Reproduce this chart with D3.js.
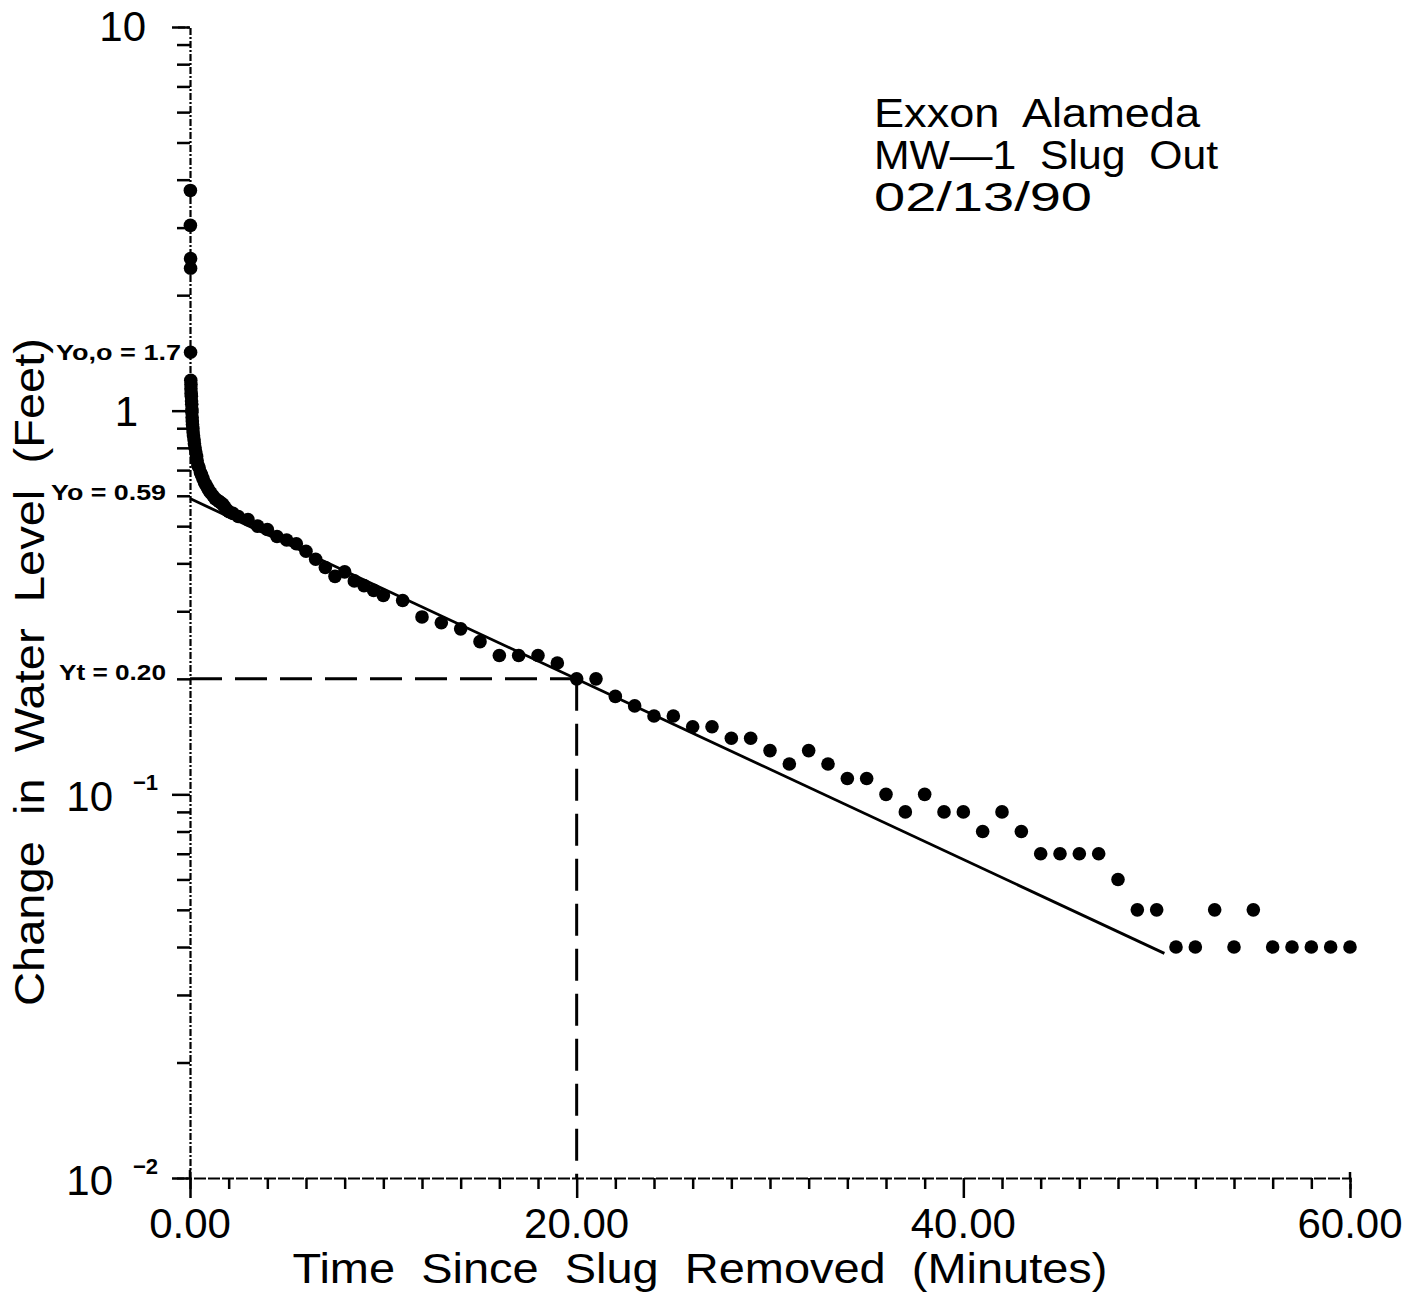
<!DOCTYPE html>
<html><head><meta charset="utf-8">
<script src="https://cdn.jsdelivr.net/npm/d3@7"></script>
<style>
html,body{margin:0;padding:0;background:#fff;}
svg{display:block;}
text{font-family:"Liberation Sans",Arial,sans-serif;fill:#000;}
</style></head>
<body>
<svg id="chart" width="1416" height="1298"></svg>
<script>
// ---- data ----
const timeMin = [0.02,0.02,0.03,0.03,0.03,
  0.04,0.05,0.05,0.06,0.07,0.08,0.09,0.10,0.10,0.11,0.12,0.13,0.15,0.16,0.18,0.21,0.23,0.26,0.30,0.34,0.37,0.41,0.47,0.54,0.60,0.67,0.75,0.83,0.90,0.98,1.08,1.19,1.30,1.40,1.50,1.60,1.70,1.81,1.92,2.02,2.22,
  2.5,3.0,3.5,4.0,4.5,5.0,5.5,6.0,6.5,7.0,7.5,8.0,8.5,9.0,9.5,10.0,
  11,12,13,14,15,16,17,18,19,20,21,22,23,24,25,26,27,28,29,30,31,32,33,34,35,36,37,38,39,40,
  41,42,43,44,45,46,47,48,49,50,51,52,53,54,55,56,57,58,59,60];
const levelFt = [3.75,3.04,2.49,2.35,1.42,
  1.20,1.17,1.14,1.11,1.09,1.06,1.04,1.01,0.99,0.96,0.94,0.92,0.90,0.88,0.86,0.84,0.82,0.80,0.78,0.76,0.74,0.72,0.71,0.69,0.68,0.665,0.65,0.64,0.63,0.62,0.61,0.60,0.59,0.585,0.58,0.575,0.57,0.56,0.55,0.545,0.54,
  0.53,0.52,0.50,0.49,0.47,0.46,0.45,0.43,0.41,0.39,0.37,0.38,0.36,0.35,0.34,0.33,
  0.32,0.29,0.28,0.27,0.25,0.23,0.23,0.23,0.22,0.20,0.20,0.18,0.17,0.16,0.16,0.15,0.15,0.14,0.14,0.13,0.12,0.13,0.12,0.11,0.11,0.10,0.09,0.10,0.09,0.09,
  0.08,0.09,0.08,0.07,0.07,0.07,0.07,0.06,0.05,0.05,0.04,0.04,0.05,0.04,0.05,0.04,0.04,0.04,0.04,0.04];
// fitted straight line (semi-log)
const fitTime = [0, 50.4];
const fitLevel = [0.59, 0.0385];
// construction lines for Yt
const ytTime = 20.0;
const ytLevel = 0.20;
// annotations
const annoLabels = ["Yo,o = 1.7", "Yo = 0.59", "Yt = 0.20"];
const annoLevels = [1.42, 0.59, 0.20];
// axis tick labels
const xTickValues = [0, 20, 40, 60];
const xTickLabels = ["0.00", "20.00", "40.00", "60.00"];
const yMajorValues = [10, 1, 0.1, 0.01];
const titleLines = ["Exxon  Alameda", "MW\u20141  Slug  Out", "02/13/90"];
const xTitle = "Time  Since  Slug  Removed  (Minutes)";
const yTitle = "Change  in  Water  Level  (Feet)";

// ---- layout ----
const svg = d3.select("#chart");
const x = d3.scaleLinear().domain([0, 60]).range([190, 1350]);
const y = d3.scaleLog().domain([0.01, 10]).range([1178, 27]);

// y axis
const yMinor = y.ticks().filter(v => !yMajorValues.some(m => Math.abs(m - v) < 1e-9));
const yAx = svg.append("g").attr("transform", `translate(${x(0)},0)`)
  .call(d3.axisLeft(y).tickValues(yMinor).tickSize(13).tickFormat(""));
yAx.select(".domain").attr("stroke", "#000").attr("stroke-width", 2.2).attr("stroke-dasharray", "7,2,2,2");
yAx.selectAll(".tick line").attr("stroke", "#000").attr("stroke-width", 2.5);
svg.append("g").attr("transform", `translate(${x(0)},0)`)
  .call(d3.axisLeft(y).tickValues(yMajorValues).tickSize(18).tickFormat(""))
  .call(g => g.select(".domain").remove())
  .selectAll(".tick line").attr("stroke", "#000").attr("stroke-width", 2.5);

// x axis
const xMinor = d3.range(2, 60, 2).filter(v => v % 20 !== 0);
const xAx = svg.append("g").attr("transform", `translate(0,${y(0.01)})`)
  .call(d3.axisBottom(x).tickValues(xMinor).tickSize(11).tickFormat(""));
xAx.select(".domain").attr("stroke", "#000").attr("stroke-width", 2.2).attr("stroke-dasharray", "12,2");
xAx.selectAll(".tick line").attr("stroke", "#000").attr("stroke-width", 2.5);
svg.append("g").attr("transform", `translate(0,${y(0.01)})`)
  .call(d3.axisBottom(x).tickValues(xTickValues).tickSize(20).tickFormat(""))
  .call(g => g.select(".domain").remove())
  .selectAll(".tick line").attr("stroke", "#000").attr("stroke-width", 2.5);
// upward stubs at 0 and 60
svg.append("line").attr("x1", x(0)).attr("x2", x(0)).attr("y1", y(0.01)).attr("y2", y(0.01) - 8)
  .attr("stroke", "#000").attr("stroke-width", 2.5);
svg.append("line").attr("x1", x(60)).attr("x2", x(60)).attr("y1", y(0.01)).attr("y2", y(0.01) - 6)
  .attr("stroke", "#000").attr("stroke-width", 2.5);

// x tick labels
svg.selectAll(".xlab").data(xTickValues).enter().append("text")
  .attr("x", d => x(d)).attr("y", 1238).attr("text-anchor", "middle")
  .attr("font-size", 42).text((d, i) => xTickLabels[i]);

// y tick labels
const ylab = svg.append("g");
ylab.append("text").attr("x", 146).attr("y", y(10) + 14).attr("text-anchor", "end").attr("font-size", 42).text("10");
ylab.append("text").attr("x", 138).attr("y", y(1) + 15).attr("text-anchor", "end").attr("font-size", 42).text("1");
[[0.1, "\u22121"], [0.01, "\u22122"]].forEach(([v, e]) => {
  ylab.append("text").attr("x", 113).attr("y", y(v) + 17).attr("text-anchor", "end").attr("font-size", 42).text("10");
  ylab.append("text").attr("x", 133).attr("y", y(v) - 4).attr("font-size", 22).attr("font-weight", "bold").text(e);
});

// construction dashed lines
const dash = "32,13";
svg.append("line").attr("x1", x(0)).attr("x2", x(ytTime)).attr("y1", y(ytLevel)).attr("y2", y(ytLevel))
  .attr("stroke", "#000").attr("stroke-width", 3).attr("stroke-dasharray", dash);
svg.append("line").attr("x1", x(ytTime)).attr("x2", x(ytTime)).attr("y1", y(ytLevel)).attr("y2", y(0.01))
  .attr("stroke", "#000").attr("stroke-width", 3).attr("stroke-dasharray", dash);

// fitted line
const fitData = fitTime.map((t, i) => [t, fitLevel[i]]);
svg.append("path").datum(fitData)
  .attr("d", d3.line().x(d => x(d[0])).y(d => y(d[1])))
  .attr("fill", "none").attr("stroke", "#000").attr("stroke-width", 2.8);

// data points
const pts = timeMin.map((t, i) => [t, levelFt[i]]);
svg.append("g").selectAll("circle").data(pts).enter().append("circle")
  .attr("cx", d => x(d[0])).attr("cy", d => y(d[1])).attr("r", 6.8).attr("fill", "#000");

// annotations
svg.append("g").selectAll("text").data(annoLabels).enter().append("text")
  .attr("x", (d, i) => i === 0 ? 181 : 166)
  .attr("y", (d, i) => y(annoLevels[i]) + (i === 0 ? 8 : 1))
  .attr("text-anchor", "end").attr("font-size", 22).attr("font-weight", "bold")
  .attr("textLength", (d, i) => [125, 115, 107][i]).attr("lengthAdjust", "spacingAndGlyphs")
  .text(d => d);

// title block
svg.append("g").selectAll("text").data(titleLines).enter().append("text")
  .attr("x", 874).attr("y", (d, i) => 127 + i * 42)
  .attr("font-size", 40).attr("xml:space", "preserve").style("white-space", "pre")
  .attr("textLength", (d, i) => [326, 344, 218][i]).attr("lengthAdjust", "spacingAndGlyphs")
  .text(d => d);

// axis titles
svg.append("text").attr("x", 700).attr("y", 1283).attr("text-anchor", "middle")
  .attr("font-size", 42).style("white-space", "pre")
  .attr("textLength", 815).attr("lengthAdjust", "spacingAndGlyphs").text(xTitle);
svg.append("text").attr("transform", "translate(44,672) rotate(-90)").attr("text-anchor", "middle")
  .attr("font-size", 42).style("white-space", "pre")
  .attr("textLength", 668).attr("lengthAdjust", "spacingAndGlyphs").text(yTitle);
</script>
</body></html>
